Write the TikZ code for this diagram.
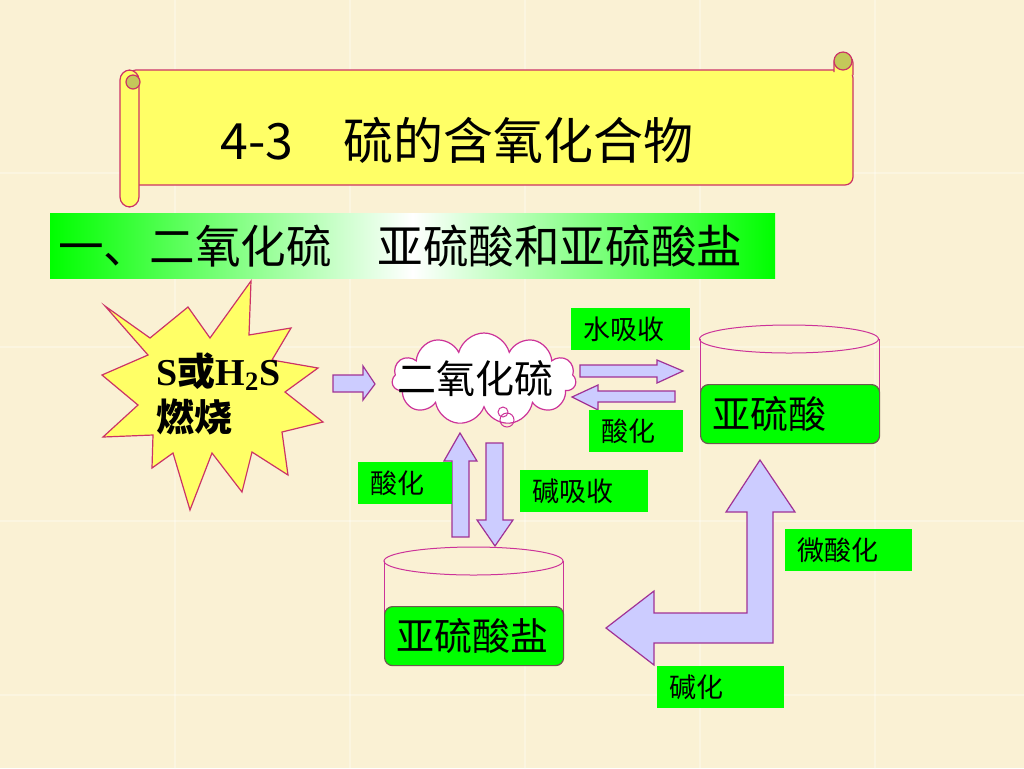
\documentclass[tikz,border=0pt]{standalone}
\usepackage{fontspec}
\setmainfont{Liberation Serif}
\newfontfamily\hei{Noto Sans CJK SC}
\usetikzlibrary{shapes.symbols}

\definecolor{bgcream}{RGB}{250,241,212}
\definecolor{scrollyellow}{RGB}{255,255,102}
\definecolor{scrollline}{RGB}{204,51,102}
\definecolor{curlolive}{RGB}{196,200,90}
\definecolor{lgreen}{RGB}{0,255,0}
\definecolor{arrowfill}{RGB}{204,204,255}
\definecolor{arrowline}{RGB}{160,50,150}
\definecolor{cloudline}{RGB}{204,51,153}
\definecolor{boxline}{RGB}{110,90,80}

\tikzset{
  scrollbox/.style={draw=scrollline, fill=scrollyellow, line width=0.6pt},
  curl/.style={draw=scrollline, fill=curlolive, line width=0.6pt},
  blast/.style={draw=scrollline, fill=scrollyellow, line width=0.6pt, line join=miter},
  blockarrow/.style={draw=arrowline, fill=arrowfill, line width=0.6pt, line join=miter},
  tank/.style={draw=cloudline, line width=0.5pt},
  labelbox/.style={fill=lgreen, inner xsep=6pt, inner ysep=0pt, minimum height=21pt,
    text width=#1, align=left, anchor=north west, font=\hei\fontsize{13.5}{14}\selectfont},
  tankbox/.style={draw=boxline, fill=lgreen, rounded corners=4pt, line width=0.6pt,
    inner xsep=6pt, inner ysep=0pt, minimum height=29.5pt, text width=77.5pt,
    align=left, anchor=north west, font=\hei\fontsize{19}{20}\selectfont},
  tile/.style={white, opacity=0.3, line width=0.8pt},
}

\begin{document}
\begin{tikzpicture}[x=0.5pt, y=-0.5pt]
    \useasboundingbox (0,0) rectangle (1024,768);
    \fill[bgcream] (0,0) rectangle (1024,768);
    \foreach \x in {175,350,525,700,875} \draw[tile] (\x,0) -- (\x,768);
    \foreach \y in {173,347,521,695} \draw[tile] (0,\y) -- (1024,\y);

    % 标题卷轴
    \draw[scrollbox, rounded corners=4pt] (128,70) rectangle (853,185);
    \draw[scrollbox, rounded corners=4pt] (834,72) -- (834,55) -- (853,55) -- (853,75);
    \filldraw[curl] (843,61) circle[radius=9];
    \draw[scrollbox, rounded corners=5pt] (120,70) rectangle (139,207);
    \filldraw[curl] (133,82) circle[radius=7];
    \node[font=\hei\fontsize{25}{25}\selectfont] (title) at (457,140) {4-3　硫的含氧化合物};

    % 小标题
    \shade[left color=lgreen, right color=lgreen, middle color=white] (50,213) rectangle (775,278);
    \node[anchor=west, inner sep=0pt, font=\hei\fontsize{22.8}{23}\selectfont] (subtitle) at (58,246)
        {一、二氧化硫　亚硫酸和亚硫酸盐};

    % 燃烧（爆炸形）
    \filldraw[blast] (105,306) -- (150,338) -- (188,307) -- (210,338) -- (251,281) -- (249,335)
        -- (291,328) -- (272,360) -- (318,368) -- (285,392) -- (323,422) -- (282,432)
        -- (288,475) -- (252,452) -- (242,492) -- (212,453) -- (190,510) -- (173,453)
        -- (152,468) -- (153,435) -- (103,437) -- (138,405) -- (102,375) -- (148,355) -- cycle;
    \node[anchor=base west, inner sep=0pt, font=\bfseries\fontsize{19}{19}\selectfont] (burn1) at (156,385)
        {S{\hei 或}H\textsubscript{2}S};
    \node[anchor=base west, inner sep=0pt, font=\hei\bfseries\fontsize{19}{19}\selectfont] (burn2) at (156,431) {燃烧};
    \filldraw[blockarrow] (333,375) -- (363,375) -- (363,366) -- (375,384) -- (363,400)
        -- (363,392) -- (333,392) -- cycle;

    % 二氧化硫（云形）
    \node[cloud, cloud puffs=11, aspect=2, draw=cloudline, fill=white, line width=0.6pt,
        minimum width=92pt, minimum height=46pt, inner sep=0pt] (so2) at (484,379) {};
    \draw[tank] (503,412) circle[radius=5];
    \draw[tank] (507,420) circle[radius=7];
    \node[font=\hei\fontsize{19.5}{20}\selectfont] (so2text) at (475,379) {二氧化硫};

    % 二氧化硫 与 亚硫酸
    \filldraw[blockarrow] (580,365) -- (657,365) -- (657,360) -- (683,371) -- (657,383)
        -- (657,377) -- (580,377) -- cycle;
    \filldraw[blockarrow] (675,391) -- (598,391) -- (598,385) -- (572,397) -- (598,410)
        -- (598,402) -- (675,402) -- cycle;
    \node[labelbox=47.5pt] (water) at (571,308) {水吸收};
    \node[labelbox=35pt] (acid1) at (589,410) {酸化};

    % 亚硫酸（容器）
    \draw[tank] (789,339) ellipse[x radius=89.5, y radius=14];
    \draw[tank] (700,339) -- (700,400);
    \draw[tank] (879,339) -- (879,400);
    \node[tankbox] (h2so3) at (700,384) {亚硫酸};

    % 二氧化硫 与 亚硫酸盐
    \filldraw[blockarrow] (452,537) -- (452,461) -- (444,461) -- (460,433) -- (477,461)
        -- (469,461) -- (469,537) -- cycle;
    \filldraw[blockarrow] (486,443) -- (503,443) -- (503,520) -- (513,520) -- (495,546)
        -- (477,520) -- (486,520) -- cycle;
    \node[labelbox=35pt] (acid2) at (358,462) {酸化};
    \node[labelbox=52pt] (alkali) at (520,470) {碱吸收};

    % 亚硫酸盐（容器）
    \draw[tank] (473.5,561) ellipse[x radius=89.5, y radius=14];
    \draw[tank] (384,561) -- (384,620);
    \draw[tank] (563,561) -- (563,620);
    \node[tankbox] (sulfite) at (384,606) {亚硫酸盐};

    % 亚硫酸 与 亚硫酸盐（折线箭头）
    \filldraw[blockarrow] (760,460) -- (795,512) -- (773,512) -- (773,643) -- (654,643)
        -- (654,665) -- (606,628) -- (654,591) -- (654,613) -- (747,613) -- (747,512)
        -- (726,512) -- cycle;
    \node[labelbox=51.5pt] (weak) at (785,529) {微酸化};
    \node[labelbox=51.5pt] (base) at (657,666) {碱化};
\end{tikzpicture}
\end{document}
